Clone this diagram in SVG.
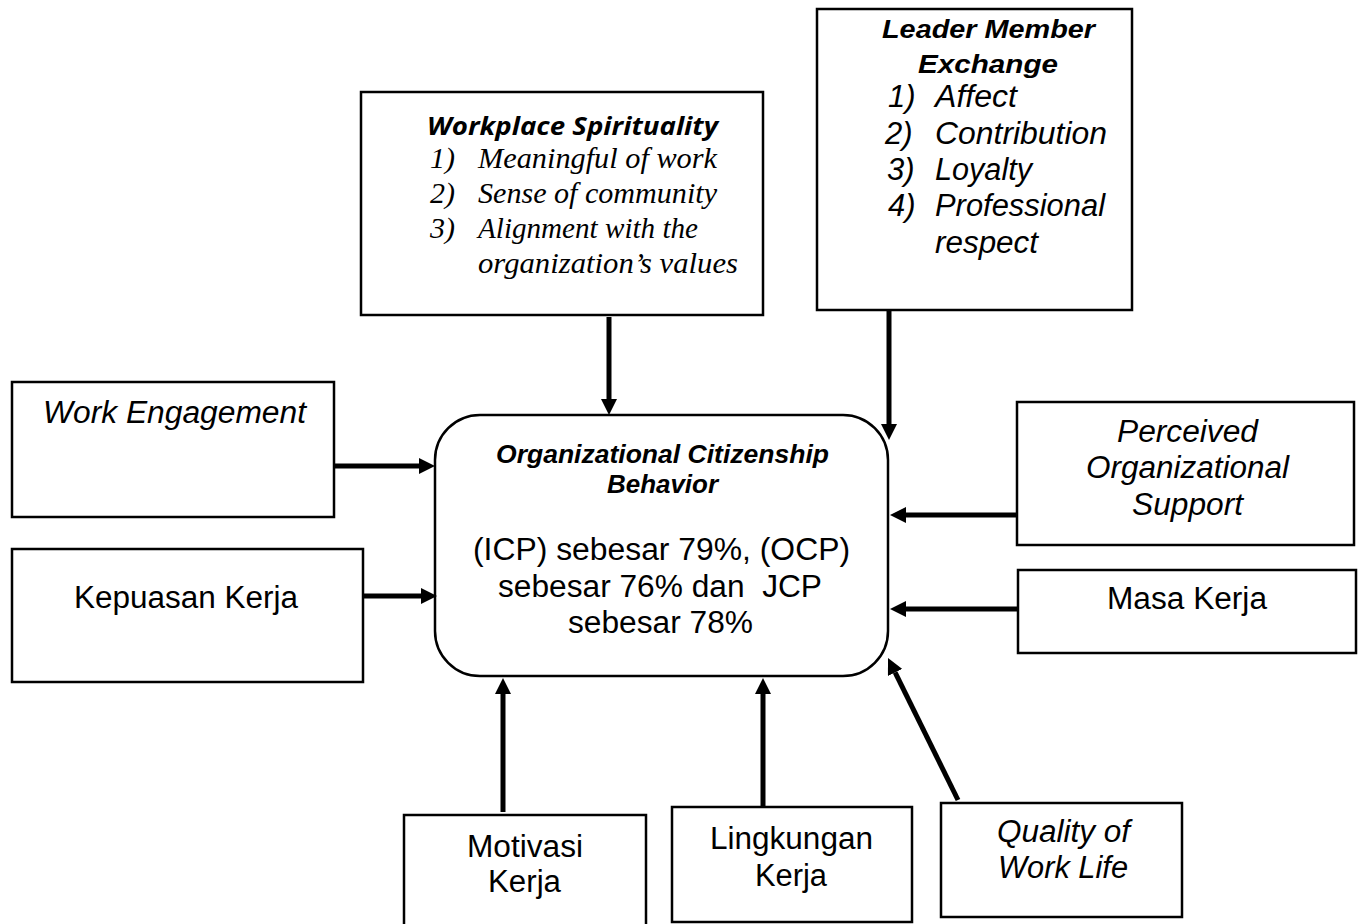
<svg xmlns="http://www.w3.org/2000/svg" width="1362" height="924" viewBox="0 0 1362 924">
<style>
.box{fill:#fff;stroke:#000;stroke-width:2.5}
.t{font-family:"Liberation Sans",Arial,sans-serif;font-size:31px;fill:#000}
.i{font-style:italic}
.b{font-weight:bold;font-style:italic;font-size:26px}
.cal{font-family:"Open Sans","Liberation Sans",sans-serif;font-weight:bold;font-style:italic;font-size:25px;fill:#000}
.ser{font-family:"Liberation Serif","Times New Roman",serif;font-style:italic;font-size:30px;fill:#000}
.conn line{stroke:#000;stroke-width:5}
</style>
<defs>
<marker id="ah" viewBox="0 0 16 16" markerWidth="16" markerHeight="16" markerUnits="userSpaceOnUse" refX="0" refY="8" orient="auto">
<path d="M0,0 L16,8 L0,16 z" fill="#000"/>
</marker>
</defs>
<rect width="1362" height="924" fill="#fff"/>

<g id="workplace-spirituality">
<rect class="box" x="361" y="92" width="402" height="223"/>
<text class="cal" x="427" y="135" textLength="291" lengthAdjust="spacingAndGlyphs">Workplace Spirituality</text>
<text class="ser" x="430" y="168">1)</text>
<text class="ser" x="478" y="168" textLength="239" lengthAdjust="spacingAndGlyphs">Meaningful of work</text>
<text class="ser" x="430" y="203">2)</text>
<text class="ser" x="478" y="203" textLength="239" lengthAdjust="spacingAndGlyphs">Sense of community</text>
<text class="ser" x="430" y="238">3)</text>
<text class="ser" x="478" y="238" textLength="220" lengthAdjust="spacingAndGlyphs">Alignment with the</text>
<text class="ser" x="478" y="273" textLength="260" lengthAdjust="spacingAndGlyphs">organization’s values</text>
</g>

<g id="leader-member-exchange">
<rect class="box" x="817" y="9" width="315" height="301"/>
<text class="t b" x="882" y="38" textLength="213" lengthAdjust="spacingAndGlyphs">Leader Member</text>
<text class="t b" x="918" y="73" textLength="140" lengthAdjust="spacingAndGlyphs">Exchange</text>
<text class="t i" x="888" y="107">1)</text>
<text class="t i" x="935" y="107" textLength="82" lengthAdjust="spacingAndGlyphs">Affect</text>
<text class="t i" x="885" y="144">2)</text>
<text class="t i" x="935" y="144" textLength="172" lengthAdjust="spacingAndGlyphs">Contribution</text>
<text class="t i" x="887" y="180">3)</text>
<text class="t i" x="935" y="180" textLength="97" lengthAdjust="spacingAndGlyphs">Loyalty</text>
<text class="t i" x="888" y="216">4)</text>
<text class="t i" x="935" y="216" textLength="170" lengthAdjust="spacingAndGlyphs">Professional</text>
<text class="t i" x="935" y="253" textLength="103" lengthAdjust="spacingAndGlyphs">respect</text>
</g>

<g id="ocb">
<rect class="box" x="435" y="415" width="453" height="261" rx="45" ry="45"/>
<text class="t b" x="496" y="463" font-size="25" textLength="333" lengthAdjust="spacingAndGlyphs">Organizational Citizenship</text>
<text class="t b" x="607" y="493" font-size="25" textLength="111" lengthAdjust="spacingAndGlyphs">Behavior</text>
<text class="t" x="473" y="560" textLength="377" lengthAdjust="spacingAndGlyphs">(ICP) sebesar 79%, (OCP)</text>
<text class="t" x="498" y="597" textLength="324" lengthAdjust="spacingAndGlyphs" xml:space="preserve">sebesar 76% dan  JCP</text>
<text class="t" x="568" y="633" textLength="185" lengthAdjust="spacingAndGlyphs">sebesar 78%</text>
</g>

<g id="work-engagement">
<rect class="box" x="12" y="382" width="322" height="135"/>
<text class="t i" x="43" y="423" textLength="263" lengthAdjust="spacingAndGlyphs">Work Engagement</text>
</g>

<g id="kepuasan-kerja">
<rect class="box" x="12" y="549" width="351" height="133"/>
<text class="t" x="74" y="608" textLength="224" lengthAdjust="spacingAndGlyphs">Kepuasan Kerja</text>
</g>

<g id="perceived-organizational-support">
<rect class="box" x="1017" y="402" width="337" height="143"/>
<text class="t i" x="1117" y="442" textLength="141" lengthAdjust="spacingAndGlyphs">Perceived</text>
<text class="t i" x="1086" y="478" textLength="203" lengthAdjust="spacingAndGlyphs">Organizational</text>
<text class="t i" x="1132" y="515" textLength="111" lengthAdjust="spacingAndGlyphs">Support</text>
</g>

<g id="masa-kerja">
<rect class="box" x="1018" y="570" width="338" height="83"/>
<text class="t" x="1107" y="609" textLength="160" lengthAdjust="spacingAndGlyphs">Masa Kerja</text>
</g>

<g id="motivasi-kerja">
<rect class="box" x="404" y="815" width="242" height="120"/>
<text class="t" x="467" y="857" textLength="116" lengthAdjust="spacingAndGlyphs">Motivasi</text>
<text class="t" x="488" y="892" textLength="73" lengthAdjust="spacingAndGlyphs">Kerja</text>
</g>

<g id="lingkungan-kerja">
<rect class="box" x="672" y="807" width="240" height="115"/>
<text class="t" x="710" y="849" textLength="163" lengthAdjust="spacingAndGlyphs">Lingkungan</text>
<text class="t" x="755" y="886" textLength="72" lengthAdjust="spacingAndGlyphs">Kerja</text>
</g>

<g id="quality-of-work-life">
<rect class="box" x="941" y="803" width="241" height="114"/>
<text class="t i" x="997" y="842" textLength="133" lengthAdjust="spacingAndGlyphs">Quality of</text>
<text class="t i" x="998" y="878" textLength="130" lengthAdjust="spacingAndGlyphs">Work Life</text>
</g>

<g id="connectors" class="conn">
<line x1="609" y1="317" x2="609" y2="399" marker-end="url(#ah)"/>
<line x1="889" y1="310" x2="889" y2="424" marker-end="url(#ah)"/>
<line x1="334" y1="466" x2="419" y2="466" marker-end="url(#ah)"/>
<line x1="363" y1="596" x2="421" y2="596" marker-end="url(#ah)"/>
<line x1="1017" y1="515" x2="906" y2="515" marker-end="url(#ah)"/>
<line x1="1018" y1="609" x2="906" y2="609" marker-end="url(#ah)"/>
<line x1="503" y1="812" x2="503" y2="694" marker-end="url(#ah)"/>
<line x1="763" y1="807" x2="763" y2="694" marker-end="url(#ah)"/>
<line x1="958" y1="800" x2="895.1" y2="672.4" marker-end="url(#ah)"/>
</g>
</svg>
